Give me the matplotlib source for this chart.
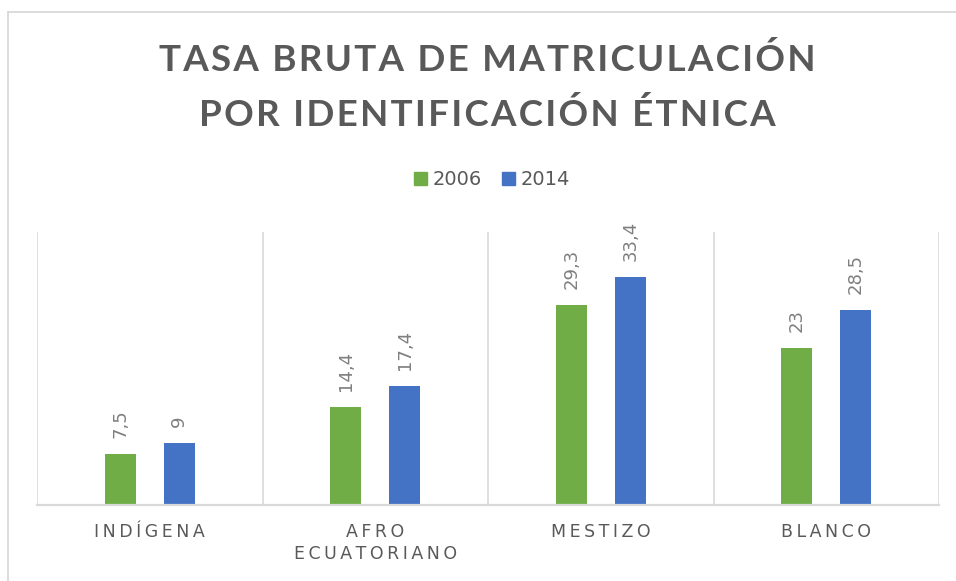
"""
tasa bruta de matriculacion por identificacion etnica
barras agrupadas 2006 vs 2014
"""

import numpy as np
import matplotlib
matplotlib.use("Agg")
import matplotlib.pyplot as plt
from matplotlib.lines import Line2D
from matplotlib.patches import Patch

# datos
categorias = ["INDÍGENA", "AFRO\nECUATORIANO", "MESTIZO", "BLANCO"]
anios = ["2006", "2014"]
valores_2006 = [7.5, 14.4, 29.3, 23]
valores_2014 = [9, 17.4, 33.4, 28.5]

verde = "#70AD47"
azul = "#4472C4"
gris_texto = "#595959"
gris_etiqueta = "#7F7F7F"
gris_linea = "#D9D9D9"

TS = "\u2009"  # espacio fino para simular espaciado entre letras
HS = "\u200a"  # espacio muy fino


def espaciar(s, sep=TS):
    return "\n".join(sep.join(linea) for linea in s.split("\n"))


def etiqueta(v):
    return f"{v:g}".replace(".", ",")


W, H = 956, 581
fig = plt.figure(figsize=(W / 100, H / 100), dpi=100)

# borde del grafico (solo izquierda y arriba se ven)
fig.lines.append(Line2D([7.5 / W, 7.5 / W], [0, 1 - 12 / H], transform=fig.transFigure,
                        color=gris_linea, linewidth=1.3))
fig.lines.append(Line2D([7.5 / W, 1], [1 - 12 / H, 1 - 12 / H], transform=fig.transFigure,
                        color=gris_linea, linewidth=1.3))

ax = fig.add_axes([37 / W, 1 - 505 / H, (939 - 37) / W, (505 - 231.5) / H])

x = np.arange(len(categorias))
ancho = 0.137
desp = 0.131

b1 = ax.bar(x - desp, valores_2006, ancho, color=verde, label=anios[0])
b2 = ax.bar(x + desp, valores_2014, ancho, color=azul, label=anios[1])

for barras, vals in [(b1, valores_2006), (b2, valores_2014)]:
    for rect, v in zip(barras, vals):
        ax.annotate(etiqueta(v), (rect.get_x() + rect.get_width() / 2, rect.get_height()),
                    xytext=(0, 11.5), textcoords="offset points", rotation=90,
                    ha="center", va="bottom", fontsize=13, color=gris_etiqueta)

ax.set_xlim(-0.5, len(categorias) - 0.5)
ax.set_ylim(0, 40)

# separadores de categoria
for xs in np.arange(-0.5, len(categorias), 1.0):
    ax.axvline(xs, color=gris_linea, linewidth=1.2, zorder=0)

for lado in ["top", "right", "left"]:
    ax.spines[lado].set_visible(False)
ax.spines["bottom"].set_color(gris_linea)
ax.spines["bottom"].set_linewidth(1.6)
ax.set_yticks([])
ax.set_xticks(x)
ax.set_xticklabels([espaciar(c) for c in categorias], fontsize=12.5, color=gris_texto)
ax.tick_params(axis="x", length=0, pad=13)
for t in ax.get_xticklabels():
    t.set_linespacing(1.29)

# titulo
for texto, yy in [("TASA BRUTA DE MATRICULACIÓN", 60), ("POR IDENTIFICACIÓN ÉTNICA", 115)]:
    fig.text(487 / W, 1 - yy / H, espaciar(texto, HS), ha="center", va="center",
             fontsize=26.5, fontweight="bold", color=gris_texto,
             family=["Lato", "DejaVu Sans"])

# leyenda
handles = [Patch(color=verde), Patch(color=azul)]
fig.legend(handles, anios, loc="center", bbox_to_anchor=(492 / W, 1 - 180 / H),
           ncol=2, frameon=False, fontsize=14, labelcolor=gris_texto,
           handlelength=0.7, handleheight=0.7, handletextpad=0.3, columnspacing=1.0)

fig.savefig("out.png", dpi=100)
